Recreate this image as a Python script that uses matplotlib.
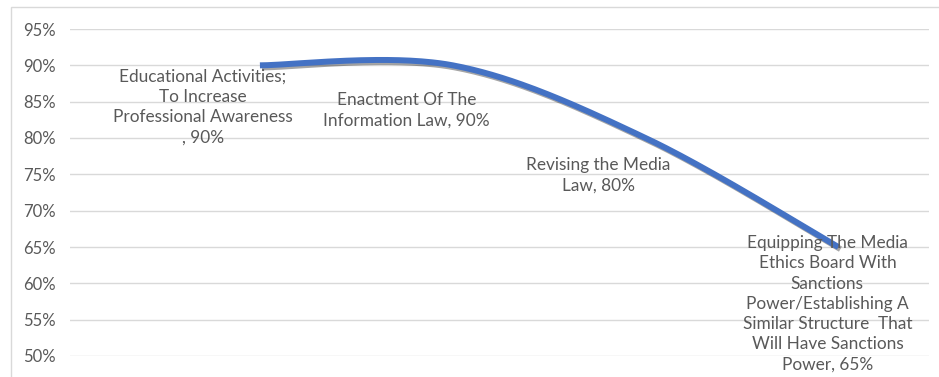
import matplotlib.pyplot as plt
import numpy as np
from matplotlib.patches import Rectangle
import matplotlib.patheffects as pe

plt.rcParams['font.family'] = ['Lato', 'DejaVu Sans']

categorias = [0, 1, 2, 3]
valores = [0.90, 0.90, 0.80, 0.65]
etiquetas = [
    "Educational Activities;\nTo Increase\nProfessional Awareness\n, 90%",
    "Enactment Of The\nInformation Law, 90%",
    "Revising the Media\nLaw, 80%",
    "Equipping The Media\nEthics Board With\nSanctions\nPower/Establishing A\nSimilar Structure  That\nWill Have Sanctions\nPower, 65%",
]
ticks_y = [0.50, 0.55, 0.60, 0.65, 0.70, 0.75, 0.80, 0.85, 0.90, 0.95]


def suavizar(x, y, n=60):
    # curva suavizada tipo Excel (Bezier con tangentes Catmull-Rom)
    x = np.asarray(x, float)
    y = np.asarray(y, float)
    px = np.concatenate([[x[0]], x, [x[-1]]])
    py = np.concatenate([[y[0]], y, [y[-1]]])
    xs, ys = [], []
    t = np.linspace(0, 1, n)
    for i in range(1, len(px) - 2):
        p0 = np.array([px[i], py[i]])
        p3 = np.array([px[i + 1], py[i + 1]])
        c1 = p0 + (np.array([px[i + 1], py[i + 1]]) - np.array([px[i - 1], py[i - 1]])) / 6
        c2 = p3 - (np.array([px[i + 2], py[i + 2]]) - np.array([px[i], py[i]])) / 6
        b = ((1 - t) ** 3)[:, None] * p0 + (3 * (1 - t) ** 2 * t)[:, None] * c1 \
            + (3 * (1 - t) * t ** 2)[:, None] * c2 + (t ** 3)[:, None] * p3
        xs.extend(b[:, 0])
        ys.extend(b[:, 1])
    return np.array(xs), np.array(ys)


fig = plt.figure(figsize=(9.39, 3.77), dpi=100)
fig.patches.append(Rectangle((11 / 939, -0.1), 1.2, (377 - 7) / 377 + 0.1,
                             transform=fig.transFigure, fill=False,
                             edgecolor='#d9d9d9', linewidth=1))
ax = fig.add_axes([70 / 939, 21 / 377, 859 / 939, 327 / 377])

sx, sy = suavizar(categorias, valores)
ax.plot(sx, sy, color='#4472C4', linewidth=4.3, solid_capstyle='butt',
        path_effects=[pe.SimpleLineShadow(offset=(1.5, -1.5), alpha=0.35),
                      pe.Normal()], zorder=3)

ax.set_xlim(-0.985, 3.47)
ax.set_ylim(0.50, 0.95)
ax.set_yticks(ticks_y)
ax.set_yticklabels([f"{int(round(v * 100))}%" for v in ticks_y])
ax.tick_params(axis='y', length=0, pad=10.5, labelsize=12, labelcolor='#595959')
ax.set_xticks([])
ax.grid(axis='y', color='#d9d9d9', linewidth=1)
ax.set_axisbelow(True)
for s in ax.spines.values():
    s.set_visible(False)

# posiciones de las etiquetas (desplazamientos en pixeles respecto al punto)
desplaz = [(-57, -3), (-46, -27), (-47, -19), (-11, 12)]
for x, y, txt, (dx, dy) in zip(categorias, valores, etiquetas, desplaz):
    ax.annotate(txt, (x, y), xytext=(dx * 0.72, dy * 0.72), textcoords='offset points',
                ha='center', va='top', fontsize=12.4, color='#595959',
                linespacing=1.33, annotation_clip=False, zorder=4)

fig.savefig('out.png', dpi=100)
